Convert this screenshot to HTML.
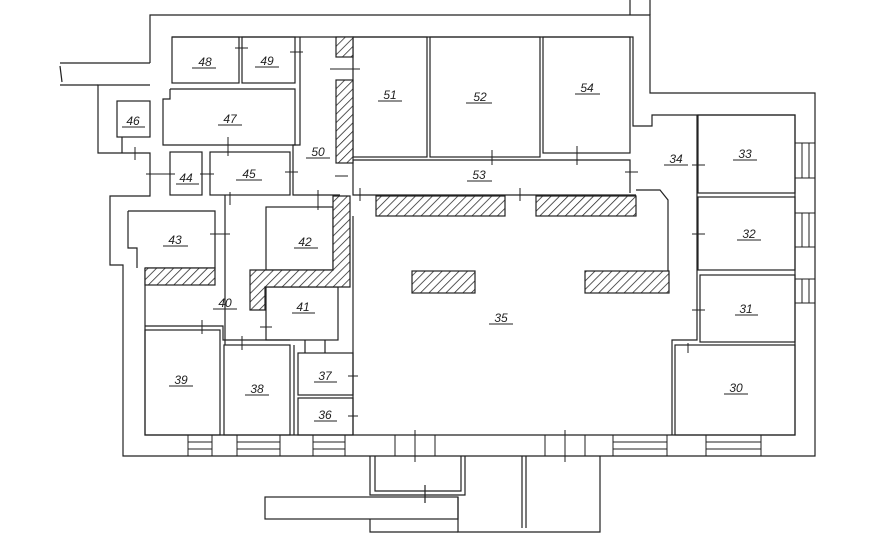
<!DOCTYPE html>
<html><head><meta charset="utf-8"><style>
html,body{margin:0;padding:0;background:#fff;width:870px;height:540px;overflow:hidden}
svg{display:block}
text{font-family:"Liberation Sans",sans-serif;font-size:12px;font-style:italic;fill:#222;text-anchor:middle}
</style></head><body>
<svg width="870" height="540" viewBox="0 0 870 540" xmlns="http://www.w3.org/2000/svg">
<defs>
<pattern id="h" width="6" height="6" patternUnits="userSpaceOnUse" patternTransform="rotate(45)">
<rect width="6" height="6" fill="#fff"/><line x1="0" y1="0" x2="0" y2="6" stroke="#222" stroke-width="1.5"/>
</pattern>
</defs>
<g fill="none" stroke="#222" stroke-width="1.2">
<!-- outer wall -->
<polyline points="150,63 150,15 650,15 650,93 815,93 815,456 123,456 123,265 110,265 110,196 150,196 150,153 98,153 98,85 150,85"/>
<line x1="630" y1="0" x2="630" y2="15"/><line x1="650" y1="0" x2="650" y2="15"/>
<line x1="60" y1="63" x2="150" y2="63"/><line x1="60" y1="85" x2="98" y2="85"/>
<line x1="60" y1="66" x2="62" y2="82"/>
<!-- inner boundary -->
<polyline points="145,268 145,435 795,435 795,115 652,115 652,126 633,126 633,37 172,37"/>
<polyline points="128,211 215,211 215,268 145,268"/>
<rect x="117" y="101" width="33" height="36"/>
<polyline points="122,137 122,153 M134,137 134,153"/>
<!-- rooms -->
<rect x="172" y="37" width="67" height="46"/>
<rect x="242" y="37" width="53" height="46"/>
<polyline points="170,89 295,89 295,145 163,145 163,99 170,99 170,89"/>
<rect x="170" y="152" width="32" height="43"/>
<rect x="210" y="152" width="80" height="43"/>
<polyline points="300,37 300,145 293,145 293,195 340,195"/>
<rect x="353" y="37" width="74" height="120"/>
<rect x="430" y="37" width="110" height="120"/>
<rect x="543" y="37" width="87" height="116"/>
<polyline points="353,160 630,160 630,193"/>
<polyline points="353,160 353,195 636,195"/>
<polyline points="128,211 128,248 137,248 137,268"/>
<rect x="266" y="207" width="67" height="63"/>
<polyline points="225,195 225,345 M250,195 250,270 M225,205 250,205"/>
<rect x="266" y="287" width="72" height="53"/>
<polyline points="145,326 223,326 223,340 290,340"/>
<rect x="145" y="330" width="75" height="105"/>
<rect x="224" y="345" width="66" height="90"/>
<line x1="294" y1="345" x2="294" y2="435"/>
<rect x="298" y="353" width="55" height="42"/>
<rect x="298" y="398" width="55" height="37"/>
<line x1="305" y1="340" x2="305" y2="353"/><line x1="325" y1="340" x2="325" y2="353"/>
<polyline points="353,216 353,435 M340,287 340,340"/>
<polyline points="636,190 660,190 668,200 668,272"/>
<polyline points="697,115 697,340 672,340 672,435"/>
<rect x="698" y="115" width="97" height="78"/>
<rect x="698" y="197" width="97" height="73"/>
<rect x="700" y="275" width="95" height="67"/>
<rect x="675" y="345" width="120" height="90"/>
<!-- windows -->
<g stroke-width="1">
<rect x="795" y="143" width="20" height="35"/><line x1="802" y1="143" x2="802" y2="178"/><line x1="809" y1="143" x2="809" y2="178"/>
<rect x="795" y="213" width="20" height="34"/><line x1="802" y1="213" x2="802" y2="247"/><line x1="809" y1="213" x2="809" y2="247"/>
<rect x="795" y="279" width="20" height="24"/><line x1="802" y1="279" x2="802" y2="303"/><line x1="809" y1="279" x2="809" y2="303"/>
<rect x="188" y="435" width="24" height="21"/><line x1="188" y1="442" x2="212" y2="442"/><line x1="188" y1="449" x2="212" y2="449"/>
<rect x="237" y="435" width="43" height="21"/><line x1="237" y1="442" x2="280" y2="442"/><line x1="237" y1="449" x2="280" y2="449"/>
<rect x="313" y="435" width="32" height="21"/><line x1="313" y1="442" x2="345" y2="442"/><line x1="313" y1="449" x2="345" y2="449"/>
<rect x="613" y="435" width="54" height="21"/><line x1="613" y1="442" x2="667" y2="442"/><line x1="613" y1="449" x2="667" y2="449"/>
<rect x="706" y="435" width="55" height="21"/><line x1="706" y1="442" x2="761" y2="442"/><line x1="706" y1="449" x2="761" y2="449"/>
<rect x="395" y="435" width="40" height="21"/><line x1="415" y1="430" x2="415" y2="462"/>
<rect x="545" y="435" width="40" height="21"/><line x1="565" y1="430" x2="565" y2="462"/>
<!-- door ticks -->
<line x1="228" y1="137" x2="228" y2="156"/><line x1="135" y1="147" x2="135" y2="160"/>
<line x1="146" y1="174" x2="175" y2="174"/><line x1="200" y1="174" x2="214" y2="174"/>
<line x1="285" y1="172" x2="298" y2="172"/><line x1="235" y1="48" x2="248" y2="48"/><line x1="290" y1="52" x2="303" y2="52"/>
<line x1="330" y1="69" x2="360" y2="69"/><line x1="335" y1="176" x2="348" y2="176"/>
<line x1="230" y1="192" x2="230" y2="205"/><line x1="318" y1="190" x2="318" y2="210"/>
<line x1="360" y1="188" x2="360" y2="201"/><line x1="520" y1="188" x2="520" y2="201"/>
<line x1="492" y1="150" x2="492" y2="165"/><line x1="577" y1="146" x2="577" y2="165"/>
<line x1="625" y1="172" x2="638" y2="172"/><line x1="210" y1="234" x2="230" y2="234"/>
<line x1="692" y1="165" x2="705" y2="165"/><line x1="692" y1="234" x2="705" y2="234"/><line x1="692" y1="310" x2="705" y2="310"/>
<line x1="688" y1="343" x2="688" y2="353"/>
<line x1="202" y1="320" x2="202" y2="334"/><line x1="242" y1="336" x2="242" y2="350"/><line x1="260" y1="327" x2="272" y2="327"/>
<line x1="348" y1="376" x2="358" y2="376"/><line x1="348" y1="416" x2="358" y2="416"/>
</g>
<!-- bottom annex -->
<polyline points="370,456 370,495 465,495 465,456"/>
<polyline points="375,456 375,491 461,491 461,456"/>
<line x1="425" y1="485" x2="425" y2="503"/>
<rect x="265" y="497" width="193" height="22"/>
<polyline points="370,519 370,532 458,532 M370,524 458,524"/>
<polyline points="458,497 458,532 600,532 600,456 M462,500 462,528 595,528 595,456"/>
<line x1="522" y1="456" x2="522" y2="528"/><line x1="526" y1="456" x2="526" y2="528"/>
</g>
<!-- hatched -->
<g fill="url(#h)" stroke="#222" stroke-width="1.2">
<rect x="336" y="37" width="17" height="20"/>
<rect x="336" y="80" width="17" height="83"/>
<rect x="376" y="196" width="129" height="20"/>
<rect x="536" y="196" width="100" height="20"/>
<path d="M333,196 L350,196 L350,287 L265,287 L265,310 L250,310 L250,270 L333,270 Z"/>
<rect x="145" y="268" width="70" height="17"/>
<rect x="412" y="271" width="63" height="22"/>
<rect x="585" y="271" width="84" height="22"/>
</g>
<!-- labels -->
<g stroke="#222" stroke-width="1">
<line x1="192" y1="68" x2="216" y2="68"/><line x1="255" y1="67" x2="279" y2="67"/>
<line x1="218" y1="125" x2="242" y2="125"/><line x1="122" y1="127" x2="145" y2="127"/>
<line x1="176" y1="184" x2="199" y2="184"/><line x1="236" y1="180" x2="262" y2="180"/>
<line x1="306" y1="158" x2="330" y2="158"/><line x1="378" y1="101" x2="402" y2="101"/>
<line x1="466" y1="103" x2="492" y2="103"/><line x1="575" y1="94" x2="600" y2="94"/>
<line x1="467" y1="181" x2="492" y2="181"/><line x1="664" y1="165" x2="688" y2="165"/>
<line x1="733" y1="160" x2="757" y2="160"/><line x1="737" y1="240" x2="761" y2="240"/>
<line x1="735" y1="315" x2="758" y2="315"/><line x1="724" y1="394" x2="748" y2="394"/>
<line x1="489" y1="324" x2="513" y2="324"/><line x1="163" y1="246" x2="188" y2="246"/>
<line x1="294" y1="248" x2="318" y2="248"/><line x1="213" y1="309" x2="237" y2="309"/>
<line x1="292" y1="313" x2="315" y2="313"/><line x1="169" y1="386" x2="193" y2="386"/>
<line x1="245" y1="395" x2="269" y2="395"/><line x1="314" y1="382" x2="337" y2="382"/>
<line x1="314" y1="421" x2="337" y2="421"/>
</g>
<text x="205" y="66">48</text><text x="267" y="65">49</text><text x="230" y="123">47</text><text x="133" y="125">46</text>
<text x="186" y="182">44</text><text x="249" y="178">45</text><text x="318" y="156">50</text><text x="390" y="99">51</text>
<text x="480" y="101">52</text><text x="587" y="92">54</text><text x="479" y="179">53</text><text x="676" y="163">34</text>
<text x="745" y="158">33</text><text x="749" y="238">32</text><text x="746" y="313">31</text><text x="736" y="392">30</text>
<text x="501" y="322">35</text><text x="175" y="244">43</text><text x="305" y="246">42</text><text x="225" y="307">40</text>
<text x="303" y="311">41</text><text x="181" y="384">39</text><text x="257" y="393">38</text><text x="325" y="380">37</text><text x="325" y="419">36</text>
</svg>
</body></html>
